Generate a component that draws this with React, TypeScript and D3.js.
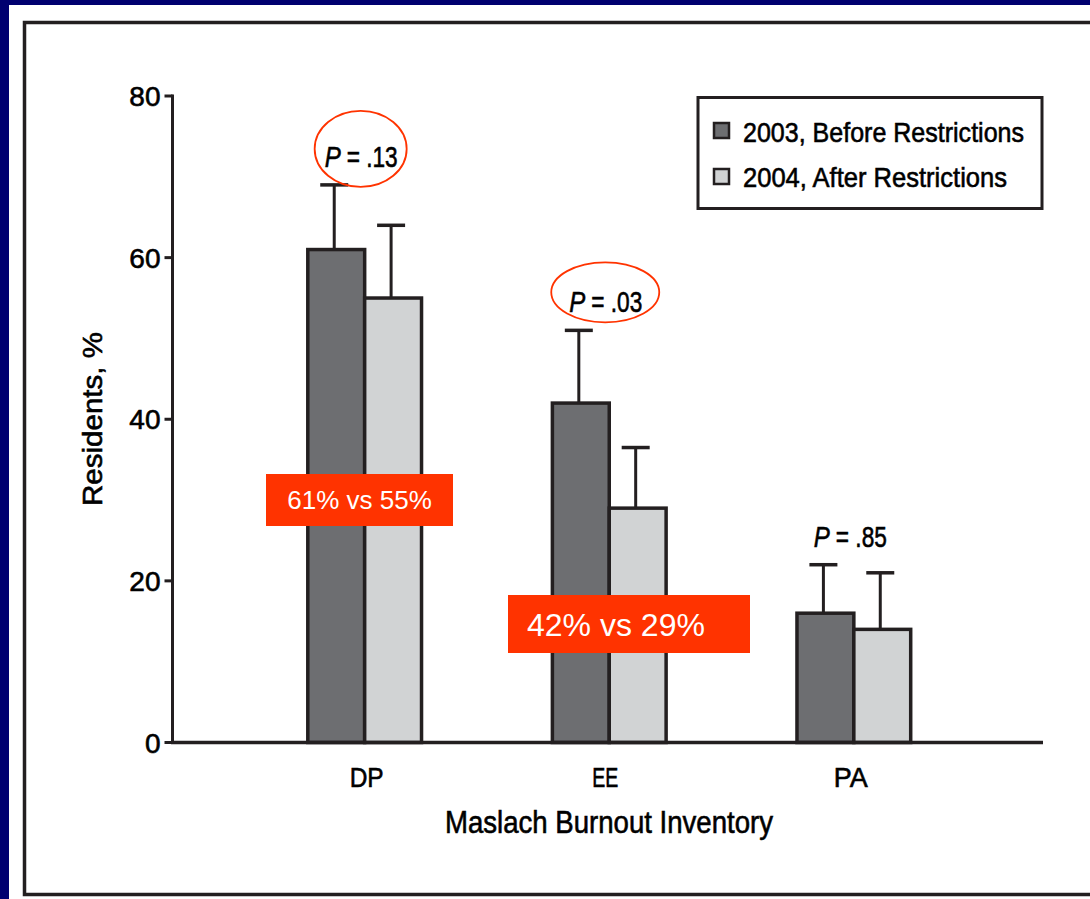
import React from "react";
import * as d3 from "d3";

const categories = ["DP", "EE", "PA"];
const beforeValues = [61, 42, 16];
const afterValues = [55, 29, 14];
const beforeErrors = [8, 9, 6];
const afterErrors = [9, 7.5, 7];
const pLabels = [".13", ".03", ".85"];
const pCircled = [true, true, false];
const seriesNames = ["2003, Before Restrictions", "2004, After Restrictions"];
const yTicks = [0, 20, 40, 60, 80];
const calloutTexts = ["61% vs 55%", "42% vs 29%"];

const W = 1090;
const H = 899;
const NAVY = "#000070";
const INK = "#231f20";
const DARK = "#6d6e71";
const LIGHT = "#d1d3d4";
const ORANGE = "#ff3300";
const FONT = "'Liberation Sans Narrow', 'Arial Narrow', 'Liberation Sans', Arial, sans-serif";
const heavy = { stroke: "#000", strokeWidth: 0.6 };

export default function App() {
  const x0 = 172.5;
  const x1 = 1043;
  const y = d3.scaleLinear().domain([0, 80]).range([742.5, 96]);
  const x = d3
    .scaleBand<string>()
    .domain(categories)
    .range([x0 + 2, x1 + 1])
    .paddingInner(0.535)
    .paddingOuter(0.545);
  const bw = x.bandwidth() / 2;

  const series = [
    { vals: beforeValues, errs: beforeErrors, fill: DARK, off: 0 },
    { vals: afterValues, errs: afterErrors, fill: LIGHT, off: 1 },
  ];

  const callouts = [
    { text: calloutTexts[0], cx: 359.5, y0: 474, w: 187, h: 52, fs: 26, anchor: "middle" },
    { text: calloutTexts[1], cx: 629, y0: 595, w: 242, h: 58, fs: 32, anchor: "start" },
  ];
  const ellipses = [
    { rx: 46, ry: 38, dy: -18, dx: 0 },
    { rx: 54, ry: 30, dy: -20, dx: 0 },
  ];
  const catDx = [2, -4, -3];

  return (
    <div style={{ position: "absolute", left: 0, top: 0 }}>
      <svg width={W} height={H} style={{ display: "block" }}>
        <rect x={0} y={0} width={W} height={H} fill={NAVY} />
        <rect x={9} y={5} width={W} height={H} fill="#ffffff" />
        <rect x={24.5} y={22.5} width={W} height={872} fill="none" stroke={INK} strokeWidth={3.5} />

        {/* y axis */}
        <line x1={x0} x2={x0} y1={y(80) - 1.5} y2={y(0)} stroke={INK} strokeWidth={3} />
        {yTicks.map((t) => (
          <g key={t}>
            <line x1={x0 - 8} x2={x0} y1={y(t)} y2={y(t)} stroke={INK} strokeWidth={3} />
            <text
              x={x0 - 12}
              y={y(t) + 10}
              textAnchor="end"
              fontFamily={FONT}
              fontSize={28}
              fill="#000"
              {...heavy}
            >
              {t}
            </text>
          </g>
        ))}
        <text
          transform={`translate(102, 419) rotate(-90)`}
          textAnchor="middle"
          fontFamily={FONT}
          fontSize={28}
          textLength={174}
          lengthAdjust="spacingAndGlyphs"
          fill="#000"
          {...heavy}
        >
          Residents, %
        </text>

        {/* bars */}
        {series.map((s, si) =>
          categories.map((c, i) => {
            const bx = (x(c) as number) + s.off * bw;
            const cx = bx + bw / 2 - 2;
            const top = y(s.vals[i]);
            const et = y(s.vals[i] + s.errs[i]);
            return (
              <g key={`${si}-${c}`}>
                <line x1={cx} x2={cx} y1={et} y2={top} stroke={INK} strokeWidth={3} />
                <line x1={cx - 14} x2={cx + 14} y1={et} y2={et} stroke={INK} strokeWidth={3.5} />
                <rect
                  x={bx}
                  y={top}
                  width={bw}
                  height={y(0) - top}
                  fill={s.fill}
                  stroke={INK}
                  strokeWidth={3.5}
                />
              </g>
            );
          })
        )}

        {/* x axis */}
        <line x1={x0 - 1.5} x2={x1} y1={y(0)} y2={y(0)} stroke={INK} strokeWidth={3.5} />
        {categories.map((c, i) => (
          <text
            key={c}
            x={(x(c) as number) + bw + catDx[i]}
            y={787}
            textAnchor="middle"
            fontFamily={FONT}
            fontSize={28}
            textLength={c === "EE" ? 26 : 34}
            lengthAdjust="spacingAndGlyphs"
            fill="#000"
            {...heavy}
          >
            {c}
          </text>
        ))}
        <text
          x={609}
          y={833}
          textAnchor="middle"
          fontFamily={FONT}
          fontSize={31}
          textLength={328}
          lengthAdjust="spacingAndGlyphs"
          fill="#000"
          {...heavy}
        >
          Maslach Burnout Inventory
        </text>

        {/* P values */}
        {categories.map((c, i) => {
          const gx = (x(c) as number) + bw - 4;
          const topV = Math.max(beforeValues[i] + beforeErrors[i], afterValues[i] + afterErrors[i]);
          const by = y(topV) - 18;
          const e = ellipses[i];
          return (
            <g key={`p-${c}`}>
              <text
                x={gx - 36}
                y={by}
                fontFamily={FONT}
                fontSize={29}
                fontStyle="italic"
                textLength={16}
                lengthAdjust="spacingAndGlyphs"
                fill="#000"
                {...heavy}
              >
                P
              </text>
              <text
                x={gx - 14}
                y={by}
                fontFamily={FONT}
                fontSize={29}
                textLength={51}
                lengthAdjust="spacingAndGlyphs"
                fill="#000"
                {...heavy}
              >
                {`= ${pLabels[i]}`}
              </text>
              {pCircled[i] && e && (
                <ellipse
                  cx={gx + e.dx}
                  cy={by + e.dy}
                  rx={e.rx}
                  ry={e.ry}
                  fill="none"
                  stroke={ORANGE}
                  strokeWidth={1.8}
                />
              )}
            </g>
          );
        })}

        {/* callouts */}
        {callouts.map((co, i) => (
          <g key={`co-${i}`}>
            <rect
              x={co.anchor === "middle" ? co.cx - co.w / 2 : 508}
              y={co.y0}
              width={co.w}
              height={co.h}
              fill={ORANGE}
            />
            <text
              x={co.anchor === "middle" ? co.cx : 527}
              y={co.y0 + co.h / 2 + co.fs * 0.36}
              textAnchor={co.anchor as any}
              fontFamily="'Liberation Sans', Arial, sans-serif"
              fontSize={co.fs}
              fill="#ffffff"
            >
              {co.text}
            </text>
          </g>
        ))}

        {/* legend */}
        <rect x={698} y={97.5} width={344} height={111} fill="#fff" stroke={INK} strokeWidth={3} />
        {seriesNames.map((n, i) => (
          <g key={n}>
            <rect
              x={714}
              y={123 + i * 46}
              width={15}
              height={15}
              fill={i === 0 ? DARK : LIGHT}
              stroke={INK}
              strokeWidth={2.5}
            />
            <text
              x={743}
              y={142 + i * 45}
              fontFamily={FONT}
              fontSize={28}
              textLength={i === 0 ? 281 : 264}
              lengthAdjust="spacingAndGlyphs"
              fill="#000"
              {...heavy}
            >
              {n}
            </text>
          </g>
        ))}
      </svg>
    </div>
  );
}
